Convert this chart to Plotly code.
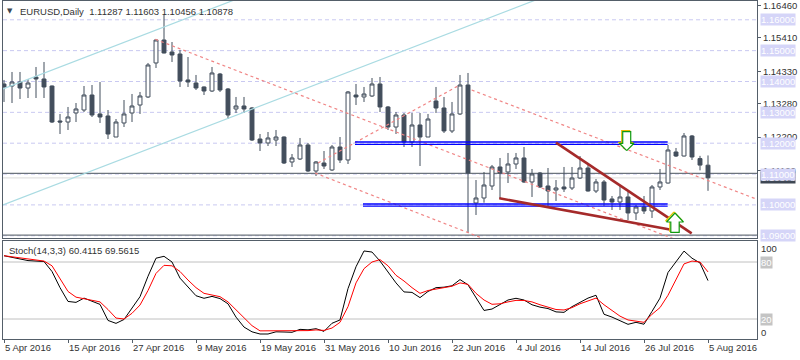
import plotly.graph_objects as go

# ---------------- data ----------------
bars = list(range(89))
open_ = [1.13919, 1.13854, 1.13984, 1.13789, 1.14146, 1.14081, 1.13854, 1.12720, 1.12687, 1.12979,
         1.13076, 1.13562, 1.12947, 1.12882, 1.12201, 1.12655, 1.12979, 1.13238, 1.13498, 1.14600,
         1.15345, 1.14956, 1.14891, 1.14049, 1.13951, 1.13822, 1.13692, 1.14243, 1.13757, 1.13109,
         1.13206, 1.13141, 1.12136, 1.12007, 1.12104, 1.12201, 1.11391, 1.11488, 1.11942, 1.11099,
         1.11358, 1.11132, 1.11877, 1.11456, 1.13562, 1.13498, 1.13530, 1.13919, 1.13174, 1.12525,
         1.12914, 1.12039, 1.12590, 1.12201, 1.13368, 1.13141, 1.12396, 1.12947, 1.13886, 1.10062,
         1.10224, 1.10613, 1.11229, 1.11067, 1.11326, 1.11521, 1.10743, 1.11034, 1.10613, 1.10483,
         1.10581, 1.10548, 1.10872, 1.11196, 1.10451, 1.10743, 1.10192, 1.10094, 1.10257, 1.09738,
         1.09932, 1.09803, 1.10581, 1.10710, 1.11715, 1.11585, 1.12234, 1.11500, 1.11287]
high = [1.14049, 1.14308, 1.14308, 1.14081, 1.14470, 1.14632, 1.13870, 1.12947, 1.13174, 1.13303,
        1.13854, 1.13886, 1.13984, 1.13076, 1.12784, 1.13400, 1.13595, 1.13660, 1.14600, 1.15378,
        1.16156, 1.15280, 1.15021, 1.14794, 1.14211, 1.13840, 1.14470, 1.14276, 1.13789, 1.13498,
        1.13498, 1.13174, 1.12298, 1.12363, 1.12428, 1.12220, 1.11650, 1.12169, 1.12007, 1.11423,
        1.11747, 1.11942, 1.12201, 1.13692, 1.13919, 1.13822, 1.14113, 1.14146, 1.13206, 1.13011,
        1.12979, 1.12979, 1.12979, 1.12947, 1.13822, 1.13498, 1.13336, 1.14211, 1.14276, 1.10807,
        1.11067, 1.11294, 1.11521, 1.11683, 1.11683, 1.11877, 1.11164, 1.11067, 1.11196, 1.10807,
        1.11229, 1.11229, 1.11585, 1.11326, 1.10840, 1.10807, 1.10289, 1.10645, 1.10419, 1.09997,
        1.10289, 1.10645, 1.11164, 1.11942, 1.11845, 1.12331, 1.12266, 1.11590, 1.11603]
low = [1.13336, 1.13303, 1.13433, 1.13465, 1.13465, 1.13465, 1.12655, 1.12298, 1.12428, 1.12687,
       1.13011, 1.12849, 1.12655, 1.12136, 1.12201, 1.12525, 1.12687, 1.12947, 1.13465, 1.14438,
       1.14910, 1.14632, 1.13822, 1.13822, 1.13724, 1.13562, 1.13660, 1.13660, 1.12784, 1.12979,
       1.12979, 1.12071, 1.11747, 1.11909, 1.11909, 1.11326, 1.11229, 1.11456, 1.11067, 1.10937,
       1.11164, 1.11099, 1.11358, 1.11326, 1.13238, 1.13336, 1.13498, 1.13011, 1.12428, 1.12298,
       1.11877, 1.11877, 1.11261, 1.12201, 1.12979, 1.12331, 1.12331, 1.12914, 1.09090, 1.09673,
       1.10072, 1.10483, 1.10192, 1.10710, 1.11164, 1.10710, 1.10257, 1.10548, 1.09932, 1.10127,
       1.10419, 1.10483, 1.10840, 1.10430, 1.10386, 1.09965, 1.09835, 1.09835, 1.09511, 1.09511,
       1.09706, 1.09576, 1.10483, 1.10690, 1.11553, 1.11570, 1.11456, 1.11120, 1.10456]
close = [1.13822, 1.13984, 1.13789, 1.13951, 1.14081, 1.13822, 1.12687, 1.12687, 1.12849, 1.13109,
         1.13562, 1.12914, 1.12849, 1.12298, 1.12687, 1.12947, 1.13206, 1.13530, 1.14535, 1.15345,
         1.14924, 1.14859, 1.14016, 1.13984, 1.13789, 1.13692, 1.14276, 1.13724, 1.12914, 1.13206,
         1.13109, 1.12104, 1.12007, 1.12169, 1.12201, 1.11358, 1.11521, 1.11942, 1.11099, 1.11391,
         1.11261, 1.11877, 1.11456, 1.13660, 1.13498, 1.13595, 1.13919, 1.13174, 1.12525, 1.12914,
         1.12039, 1.12590, 1.12201, 1.12784, 1.13141, 1.12396, 1.12947, 1.13886, 1.11034, 1.10224,
         1.10645, 1.11229, 1.11034, 1.11326, 1.11521, 1.10743, 1.11002, 1.10581, 1.10451, 1.10548,
         1.10516, 1.10872, 1.11196, 1.10451, 1.10743, 1.10159, 1.10094, 1.10257, 1.09738, 1.09932,
         1.09803, 1.10581, 1.10743, 1.11780, 1.11585, 1.12234, 1.11553, 1.11290, 1.10878]

date_ticks = [0, 8, 16, 24, 32, 40, 48, 56, 64, 72, 80, 88]
date_labels = ["5 Apr 2016", "15 Apr 2016", "27 Apr 2016", "9 May 2016", "19 May 2016",
               "31 May 2016", "10 Jun 2016", "22 Jun 2016", "4 Jul 2016", "14 Jul 2016",
               "26 Jul 2016", "5 Aug 2016"]

price_ticks = [1.16460, 1.15410, 1.14330, 1.13280, 1.12200, 1.11120]
price_levels = [1.09, 1.10, 1.11, 1.12, 1.13, 1.14, 1.15, 1.16]
bid_price = 1.10878

stoch_k = [86.6, 85, 82.8, 81.5, 81, 80.5, 70, 53, 38.5, 37.5,
           42, 39, 35.4, 18.5, 15.4, 19.5, 32, 43.5, 65, 84,
           86, 80, 63, 54, 44.5, 41.8, 43.8, 41.5, 36, 22,
           11.5, 6.5, 4.2, 4.2, 6.5, 6.3, 6, 9.1, 8.6, 9.8,
           7, 15.5, 19, 52, 75, 91.6, 90.5, 81, 70, 58,
           48.5, 48, 42.5, 49, 53, 53.5, 55, 61.5, 56, 42,
           29, 30.5, 35.4, 40, 41.8, 40, 35, 32.5, 31, 27.5,
           27, 33, 37.5, 42, 45, 25, 22, 18, 14.4, 16.5,
           14.5, 28, 42, 69, 80, 91.5, 84, 79, 60.41]
stoch_d = [86.6, 85.5, 84, 83, 82, 81, 76, 62, 49, 43,
           41.5, 39.5, 38, 30, 21, 20, 26, 34.7, 50, 68,
           76.5, 76, 70, 61, 53, 47, 45, 43.5, 38, 30,
           21, 13, 7.5, 7.5, 7.5, 7.5, 7.5, 7.8, 7.8, 8.5,
           8, 10.5, 16.5, 33, 58, 73, 80, 82.5, 76, 66,
           60, 53, 47, 50, 51.5, 53, 54.5, 58, 56.5, 47,
           40, 35.5, 36, 38, 39.6, 39.5, 38, 35, 32.5, 30,
           29.5, 32, 36, 39, 42, 35, 29, 23, 19, 17.5,
           16.5, 25, 32, 45, 62, 78, 81, 80, 69.56]
stoch_levels = [80, 20]

# drawn objects: (bar index list, price list)
cyan_upper = ([-0.125, 30.0], [1.13757, 1.16764])
cyan_lower = ([-0.125, 70.0], [1.09997, 1.16995])
red_l0 = ([58.46, 94.125], [1.13724, 1.10181])
red_l1 = ([18.91, 87.0], [1.15368, 1.08571])
red_l2 = ([38.875, 60.0], [1.11034, 1.08900])
red_up = ([39.25, 56.75], [1.11358, 1.13854])
blue_upper = ([43.875, 82.96], [1.12039, 1.11964])   # x range, two prices
blue_lower = ([44.875, 82.96], [1.10030, 1.09960])
wedge_upper = ([69.0, 85.96], [1.12016, 1.09079])
wedge_lower = ([61.91, 84.09], [1.10214, 1.09164])
arrow_down_tip = (77.84, 1.11757)
arrow_up_tip = (83.875, 1.09737)

# ---------------- layout constants ----------------
W, H = 800, 360
ML, MR, MT, MB = 3, 43, 1, 21
X_RANGE = [-0.125, 94.125]
Y_RANGE = [1.08927, 1.16609]
MAIN_DOM = [0.2988, 1.0]
STO_DOM = [0.0, 0.2899]
STO_RANGE = [-1.05, 102.1]

plot_w = W - ML - MR
plot_h = H - MT - MB
px_per_bar = plot_w / (X_RANGE[1] - X_RANGE[0])
px_per_price = plot_h * (MAIN_DOM[1] - MAIN_DOM[0]) / (Y_RANGE[1] - Y_RANGE[0])

FRAME = "#545e69"
CANDLE = "#434e5c"
TXT = "#333333"
FONT = "Liberation Sans"
FS = 9.5

fig = go.Figure()

fig.add_trace(go.Candlestick(
    x=bars, open=open_, high=high, low=low, close=close,
    increasing=dict(line=dict(color=CANDLE, width=1), fillcolor="white"),
    decreasing=dict(line=dict(color=CANDLE, width=1), fillcolor=CANDLE),
    whiskerwidth=0, xaxis="x", yaxis="y", hoverinfo="skip", showlegend=False))


def line(xy, color, width=1, dash=None):
    fig.add_trace(go.Scatter(x=xy[0], y=xy[1], mode="lines",
                             line=dict(color=color, width=width, dash=dash),
                             xaxis="x", yaxis="y", hoverinfo="skip", showlegend=False))


line(cyan_upper, "#a9dbe2", 1.2)
line(cyan_lower, "#a9dbe2", 1.2)
for l in (red_l0, red_l1, red_l2, red_up):
    line(l, "#f08585", 1.2, "3px,3px")
for b in (blue_upper, blue_lower):
    for p in b[1]:
        line((b[0], [p, p]), "#0000ff", 1.3)
line(wedge_upper, "#a52a2a", 2.6)
line(wedge_lower, "#a52a2a", 2.6)


def arrow(tip, pts, color, dx=0.0, dy=0.0):
    xs = [tip[0] + (px + dx) / px_per_bar for px, py in pts]
    ys = [tip[1] - (py + dy) / px_per_price for px, py in pts]
    fig.add_trace(go.Scatter(x=xs, y=ys, mode="lines", fill="toself", fillcolor="white",
                             line=dict(color=color, width=1.2),
                             xaxis="x", yaxis="y", hoverinfo="skip", showlegend=False))


down_pts = [(0, 0), (-7.3, -7.4), (-4, -7.4), (-4, -19), (4, -19), (4, -7.4), (7.3, -7.4), (0, 0)]
up_pts = [(0, 0), (-8.5, 9), (-4.2, 9), (-4.2, 19.4), (4.2, 19.4), (4.2, 9), (8.5, 9), (0, 0)]
arrow(arrow_down_tip, down_pts, "#e8b800", -1, -1)
arrow(arrow_down_tip, down_pts, "#109a10")
arrow(arrow_up_tip, up_pts, "#e8c800", -1, -1)
arrow(arrow_up_tip, up_pts, "#109a10")

fig.add_trace(go.Scatter(x=bars, y=stoch_k, mode="lines", line=dict(color="black", width=1),
                         xaxis="x2", yaxis="y2", hoverinfo="skip", showlegend=False))
fig.add_trace(go.Scatter(x=bars, y=stoch_d, mode="lines", line=dict(color="#ff0000", width=1),
                         xaxis="x2", yaxis="y2", hoverinfo="skip", showlegend=False))

shapes = []
for lv in price_levels:
    shapes.append(dict(type="line", xref="x domain", yref="y", x0=0, x1=1, y0=lv, y1=lv,
                       line=dict(color="#c9c9f1", width=1, dash="4px,3px"), layer="below"))
for lv in (1.1102, 1.0902):
    shapes.append(dict(type="line", xref="x domain", yref="y", x0=0, x1=1, y0=lv, y1=lv,
                       line=dict(color="#6c747d", width=1.2), layer="below"))
shapes.append(dict(type="line", xref="x domain", yref="y", x0=0, x1=1, y0=bid_price, y1=bid_price,
                   line=dict(color="#e2e2e2", width=1.2), layer="below"))
for lv in stoch_levels:
    shapes.append(dict(type="line", xref="x2 domain", yref="y2", x0=0, x1=1, y0=lv, y1=lv,
                       line=dict(color="#c0c0c0", width=1), layer="below"))

ann = []
ann.append(dict(xref="paper", yref="paper", x=0, y=1, xshift=7, yshift=-10, text="▼",
                showarrow=False, xanchor="center", yanchor="middle",
                font=dict(family="DejaVu Sans", size=7, color="#3c4550")))
ann.append(dict(xref="paper", yref="paper", x=0, y=1, xshift=15, yshift=-10,
                text="EURUSD,Daily  %.5f %.5f %.5f %.5f" % (open_[-1], high[-1], low[-1], close[-1]),
                showarrow=False, xanchor="left", yanchor="middle",
                font=dict(family=FONT, size=FS, color=TXT)))
ann.append(dict(xref="paper", yref="y2", x=0, y=92, xshift=4,
                text="Stoch(14,3,3) %.4f %.4f" % (60.4115, 69.5615),
                showarrow=False, xanchor="left", yanchor="middle",
                font=dict(family=FONT, size=FS, color=TXT)))
ann.append(dict(xref="paper", yref="y", x=1, y=bid_price, xshift=3, text="%.5f" % bid_price,
                showarrow=False, xanchor="left", yanchor="middle", bgcolor="#3e4753", borderpad=0,
                font=dict(family=FONT, size=FS, color="white")))
for lv in price_levels:
    ann.append(dict(xref="paper", yref="y", x=1, y=lv, xshift=3, text="%.5f" % lv,
                    showarrow=False, xanchor="left", yanchor="middle", bgcolor="#d5d5f8", borderpad=0,
                    font=dict(family=FONT, size=FS, color="white")))
for val, txt, box in ((94.7, "100", None), (5.3, "0", None), (80, "80", "#c4c4c4"), (20, "20", "#c4c4c4")):
    d = dict(xref="paper", yref="y2", x=1, y=val, xshift=3, text=txt, showarrow=False,
             xanchor="left", yanchor="middle", borderpad=0,
             font=dict(family=FONT, size=FS, color="white" if box else TXT))
    if box:
        d["bgcolor"] = box
    ann.append(d)

axis_common = dict(showgrid=False, zeroline=False, showline=True, mirror=True,
                   linecolor=FRAME, linewidth=1, fixedrange=True, automargin=False)

fig.update_layout(
    width=W, height=H, margin=dict(l=ML, r=MR, t=MT, b=MB, autoexpand=False),
    paper_bgcolor="white", plot_bgcolor="white", showlegend=False,
    xaxis=dict(domain=[0, 1], range=X_RANGE, anchor="y", showticklabels=False, ticks="",
               rangeslider=dict(visible=False), **axis_common),
    yaxis=dict(domain=MAIN_DOM, range=Y_RANGE, anchor="x", side="right",
               tickvals=price_ticks, ticktext=["%.5f" % v for v in price_ticks],
               ticks="outside", ticklen=3, tickcolor=FRAME, ticklabeloverflow="allow",
               tickfont=dict(family=FONT, size=FS, color=TXT), **axis_common),
    xaxis2=dict(domain=[0, 1], range=X_RANGE, anchor="y2", tickvals=date_ticks, ticktext=date_labels,
                ticks="outside", ticklen=3, tickcolor=FRAME, ticklabelposition="outside right",
                ticklabeloverflow="allow",
                tickfont=dict(family=FONT, size=FS, color=TXT), **axis_common),
    yaxis2=dict(domain=STO_DOM, range=STO_RANGE, anchor="x2", side="right",
                showticklabels=False, ticks="", **axis_common),
    shapes=shapes, annotations=ann,
)

fig.write_html("out.html", config={"displayModeBar": False, "staticPlot": True},
               post_script="document.body.style.margin='0';document.body.style.overflow='hidden';")
